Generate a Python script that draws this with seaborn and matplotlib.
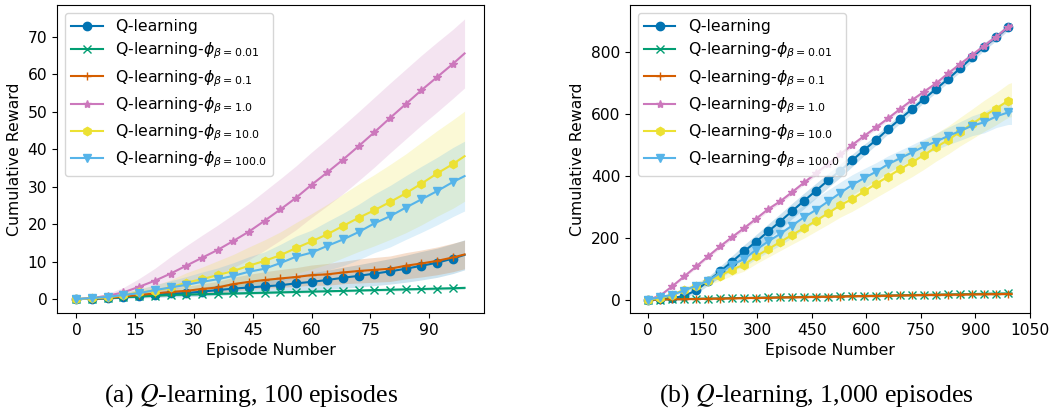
import numpy as np
import seaborn as sns
import matplotlib.pyplot as plt

# ---- panel (a): 100 episodes ----
ep_100 = [0, 4, 8, 12, 16, 20, 24, 28, 32, 36, 40, 44, 48, 52, 56, 60, 64, 68, 72, 76, 80, 84, 88, 92, 96, 99]
q_100 = [0, 0.1, 0.2, 0.5, 0.8, 1.1, 1.5, 1.6, 2.0, 2.4, 2.8, 3.1, 3.4, 3.7, 4.2, 4.6, 5.1, 5.7, 6.2, 6.8, 7.4, 8.1, 8.9, 9.7, 10.8, 11.8]
q_100_sd = [0, 0.1, 0.2, 0.3, 0.5, 0.7, 0.9, 1.0, 1.2, 1.4, 1.5, 1.7, 1.9, 2.0, 2.2, 2.4, 2.6, 2.8, 3.0, 3.2, 3.4, 3.6, 3.8, 3.9, 4.0, 4.0]
b001_100 = [0, 0.1, 0.3, 0.5, 0.7, 0.9, 1.1, 1.2, 1.3, 1.4, 1.5, 1.6, 1.7, 1.8, 1.9, 2.0, 2.1, 2.2, 2.3, 2.4, 2.5, 2.6, 2.7, 2.8, 2.9, 3.0]
b001_100_sd = [0, 0.05, 0.1, 0.15, 0.2, 0.2, 0.25, 0.25, 0.3, 0.3, 0.3, 0.3, 0.3, 0.3, 0.3, 0.3, 0.3, 0.3, 0.3, 0.3, 0.35, 0.35, 0.35, 0.35, 0.35, 0.35]
b01_100 = [0, 0.1, 0.3, 0.7, 1.1, 1.5, 1.9, 2.2, 2.7, 3.1, 4.0, 4.6, 5.1, 5.5, 5.9, 6.4, 6.6, 7.1, 7.5, 7.8, 8.1, 8.9, 9.5, 10.2, 11.1, 11.9]
b01_100_sd = [0, 0.1, 0.3, 0.4, 0.6, 0.8, 1.0, 1.2, 1.4, 1.6, 1.8, 2.0, 2.2, 2.4, 2.5, 2.7, 2.9, 3.0, 3.2, 3.3, 3.4, 3.5, 3.6, 3.7, 3.8, 3.8]
b1_100 = [0, 0.3, 0.9, 1.8, 3.3, 4.9, 6.8, 8.9, 11.0, 13.1, 15.5, 18.0, 20.9, 23.9, 27.0, 30.5, 33.8, 37.2, 40.8, 44.5, 48.3, 52.0, 55.7, 59.2, 62.7, 65.5]
b1_100_sd = [0, 0.2, 0.6, 1.3, 2.2, 3.3, 4.5, 5.3, 6.0, 6.6, 7.1, 7.5, 7.9, 8.2, 8.5, 8.7, 8.9, 9.1, 9.2, 9.3, 9.3, 9.3, 9.3, 9.3, 9.2, 9.2]
b10_100 = [0, 0.2, 0.5, 1.0, 1.8, 2.2, 3.1, 4.4, 5.3, 6.4, 7.5, 8.9, 10.2, 11.7, 13.6, 15.4, 17.3, 19.5, 21.7, 23.7, 25.9, 28.2, 30.8, 33.5, 36.0, 38.1]
b10_100_sd = [0, 0.2, 0.4, 0.7, 1.0, 1.5, 2.0, 2.6, 3.2, 3.8, 4.4, 5.0, 5.6, 6.2, 6.8, 7.4, 8.0, 8.5, 9.0, 9.5, 10.0, 10.5, 11.0, 11.4, 11.8, 12.0]
b100_100 = [0, 0.3, 0.6, 1.1, 1.6, 2.4, 3.1, 3.8, 4.6, 5.3, 6.2, 7.3, 8.1, 9.6, 11.3, 12.4, 14.2, 15.9, 17.9, 20.2, 22.1, 24.4, 26.6, 28.8, 31.2, 32.8]
b100_100_sd = [0, 0.2, 0.4, 0.7, 1.0, 1.4, 1.8, 2.2, 2.6, 3.0, 3.5, 4.0, 4.5, 5.0, 5.5, 6.0, 6.5, 7.0, 7.4, 7.8, 8.2, 8.5, 8.8, 9.0, 9.2, 9.3]

# ---- panel (b): 1,000 episodes ----
ep_1000 = [0, 33, 66, 99, 132, 165, 198, 231, 264, 297, 330, 363, 396, 429, 462, 495, 528, 561,
           594, 627, 660, 693, 726, 759, 792, 825, 858, 891, 924, 957, 990, 999]
q_1000 = [0, 2, 5, 12, 30, 60, 91, 123, 156, 187, 220, 252, 286, 319, 352, 385, 416, 449, 483, 515,
          550, 583, 615, 648, 680, 712, 746, 781, 816, 846, 878, 885]
q_1000_sd = [0, 1, 3, 6, 10, 14, 17, 19, 21, 23, 24, 25, 25, 25, 24, 23, 22, 20, 18, 16, 15, 14, 13, 12,
             12, 12, 12, 12, 12, 11, 10, 10]
b001_1000 = [0, 0.5, 1, 2, 3, 3.5, 4, 5, 5.5, 6, 7, 7.5, 8, 9, 9.5, 10, 11, 11.5, 12, 13, 13.5, 14, 15,
             15.5, 16, 17, 17.5, 18, 19, 19.5, 20, 20.2]
b001_1000_sd = [0, 0.3, 0.5, 0.8, 1, 1.2, 1.4, 1.6, 1.8, 2, 2, 2.2, 2.4, 2.5, 2.6, 2.8, 3, 3, 3.2, 3.3,
                3.4, 3.5, 3.6, 3.7, 3.8, 3.9, 4, 4, 4.1, 4.2, 4.3, 4.3]
b01_1000 = [0, 0.5, 1, 1.5, 2, 3, 3.5, 4, 5, 5.5, 6, 7, 7.5, 8, 9, 9.5, 10, 11, 11.5, 12, 13, 13.5, 14,
            15, 15.5, 16, 16.5, 17, 17.5, 18, 18.5, 18.7]
b01_1000_sd = [0, 0.3, 0.5, 0.7, 0.9, 1.1, 1.3, 1.5, 1.6, 1.8, 1.9, 2, 2.2, 2.3, 2.4, 2.5, 2.6, 2.7, 2.8,
               2.9, 3, 3.1, 3.2, 3.3, 3.4, 3.5, 3.6, 3.6, 3.7, 3.8, 3.9, 3.9]
b1_1000 = [0, 13, 43, 75, 107, 140, 172, 202, 231, 261, 292, 317, 347, 378, 408, 438, 469, 499, 528, 556,
           585, 615, 644, 671, 698, 730, 760, 789, 819, 848, 880, 885]
b1_1000_sd = [0, 2, 4, 5, 6, 6, 7, 7, 7, 7, 7, 7, 7, 7, 7, 7, 7, 7, 7, 7, 7, 7, 7, 7, 7, 7, 8, 8, 8, 8, 8, 8]
b10_1000 = [0, 5, 16, 32, 45, 61, 77, 97, 113, 140, 163, 186, 209, 231, 255, 279, 304, 325, 349, 374,
            397, 421, 443, 467, 492, 515, 542, 567, 593, 616, 642, 645]
b10_1000_sd = [0, 2, 4, 7, 10, 13, 16, 19, 21, 24, 26, 28, 30, 32, 34, 36, 38, 40, 42, 44, 45, 46, 46, 46,
               45, 45, 46, 48, 50, 52, 54, 55]
b100_1000 = [0, 8, 16, 29, 45, 61, 86, 113, 131, 161, 188, 212, 239, 266, 290, 317, 344, 370, 392, 413,
             437, 456, 475, 494, 510, 528, 544, 561, 572, 591, 604, 607]
b100_1000_sd = [0, 2, 4, 6, 8, 12, 16, 20, 25, 30, 34, 37, 39, 40, 39, 37, 35, 33, 31, 29, 27, 26, 25, 25,
                26, 28, 30, 32, 34, 36, 39, 42]

labels = ['Q-learning',
          r'Q-learning-$\phi_{\beta=0.01}$',
          r'Q-learning-$\phi_{\beta=0.1}$',
          r'Q-learning-$\phi_{\beta=1.0}$',
          r'Q-learning-$\phi_{\beta=10.0}$',
          r'Q-learning-$\phi_{\beta=100.0}$']
markers = ['o', 'x', '+', '*', 'h', 'v']
pal = sns.color_palette("colorblind")
colors = [pal[0], pal[2], pal[3], pal[4], pal[8], pal[9]]

plt.rcParams['font.size'] = 11.3
plt.rcParams['xtick.labelsize'] = 11.2
plt.rcParams['ytick.labelsize'] = 11.2


def draw_panel(ax, x, series, sds, xticks, xlim, ylim):
    n_marks = len(x) - 1  # last point only closes the curve
    for y, sd, lab, m, c in zip(series, sds, labels, markers, colors):
        y = np.array(y, dtype=float)
        sd = np.array(sd, dtype=float)
        ax.fill_between(x, y - sd, y + sd, color=c, alpha=0.2, linewidth=0)
        sns.lineplot(x=x, y=y, ax=ax, color=c, marker=m, markevery=list(range(n_marks)),
                     markersize=6, markeredgecolor=c, markeredgewidth=1.0,
                     linewidth=1.5, label=lab)
    ax.set_xticks(xticks)
    ax.set_xlim(*xlim)
    ax.set_ylim(*ylim)
    ax.set_xlabel('Episode Number')
    ax.set_ylabel('Cumulative Reward')
    ax.legend(loc='upper left', fontsize=11.3, labelspacing=0.42)


fig = plt.figure(figsize=(10.62, 4.15), dpi=100)
ax1 = fig.add_axes([0.0537, 0.2458, 0.402, 0.742])
ax2 = fig.add_axes([0.5932, 0.2458, 0.3767, 0.742])

draw_panel(ax1, ep_100,
           [q_100, b001_100, b01_100, b1_100, b10_100, b100_100],
           [q_100_sd, b001_100_sd, b01_100_sd, b1_100_sd, b10_100_sd, b100_100_sd],
           [0, 15, 30, 45, 60, 75, 90], (-4.95, 103.95), (-3.7, 78.4))
draw_panel(ax2, ep_1000,
           [q_1000, b001_1000, b01_1000, b1_1000, b10_1000, b100_1000],
           [q_1000_sd, b001_1000_sd, b01_1000_sd, b1_1000_sd, b10_1000_sd, b100_1000_sd],
           [0, 150, 300, 450, 600, 750, 900, 1050], (-50, 1050), (-43, 950))

cap_kw = dict(ha='center', va='center', fontsize=18.5, family='Liberation Serif',
              math_fontfamily='stix')
fig.text(0.2365, 0.046, r'(a) $\mathit{Q}$-learning, 100 episodes', **cap_kw)
fig.text(0.7685, 0.046, r'(b) $\mathit{Q}$-learning, 1,000 episodes', **cap_kw)

fig.savefig('out.png', dpi=100)
